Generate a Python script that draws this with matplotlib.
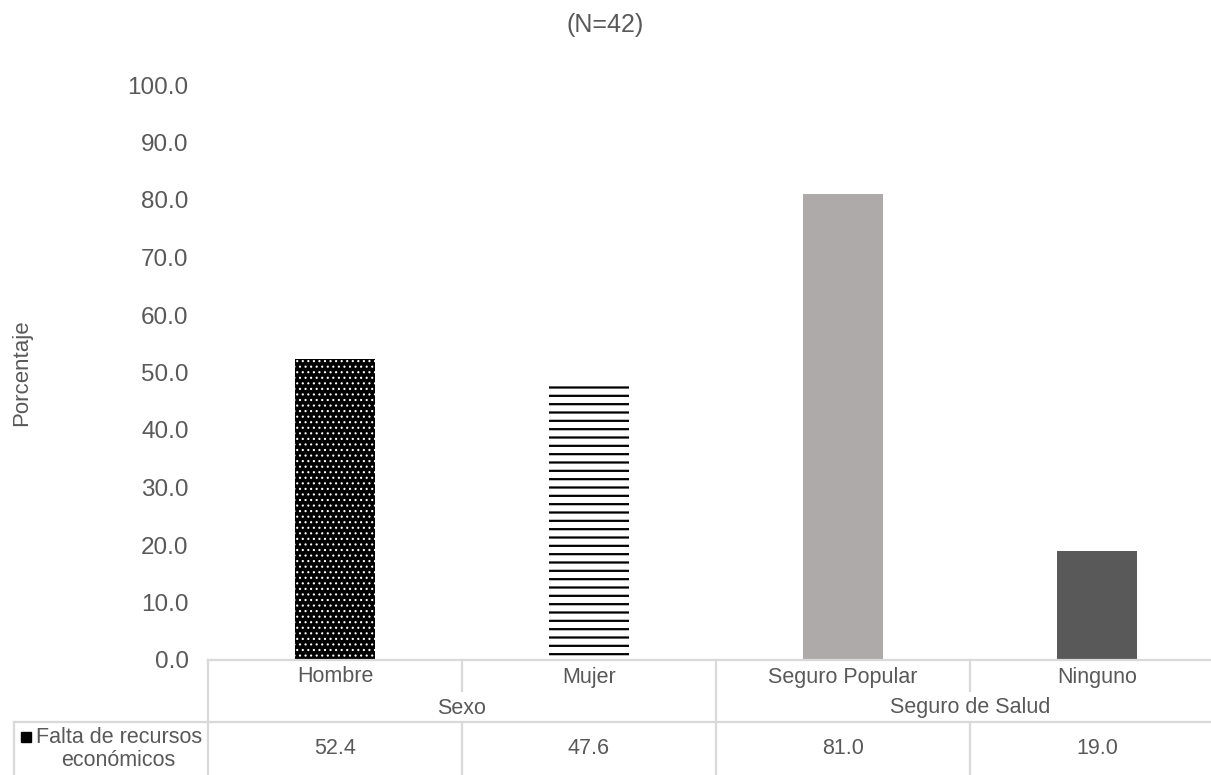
import matplotlib
matplotlib.use('Agg')
import matplotlib.pyplot as plt
from matplotlib.transforms import blended_transform_factory

# ---------------- data ----------------
categorias = ['Hombre', 'Mujer', 'Seguro Popular', 'Ninguno']
grupos = ['Sexo', 'Seguro de Salud']
grupo_idx = [[0, 1], [2, 3]]          # columns that belong to each group
valores = [52.4, 47.6, 81.0, 19.0]
serie = 'Falta de recursos\neconómicos'
titulo = '(N=42)'

plt.rcParams['font.family'] = ['Liberation Sans', 'DejaVu Sans']
txt = '#595959'
grid = '#d9d9d9'

W, H = 1211, 775
fig = plt.figure(figsize=(W / 100, H / 100), dpi=100)

# axes in pixel terms: x 208..1224, y 85..660
def px(x0, y0, x1, y1):
    return [x0 / W, 1 - y1 / H, (x1 - x0) / W, (y1 - y0) / H]

ax = fig.add_axes(px(208, 85, 1224, 660))

# bar styles: dotted, striped, light gray, dark gray  (style, hatch line width)
estilos = [
    (dict(color='black', hatch='...', edgecolor='white', linewidth=0), 0.8),
    (dict(color='white', hatch='--', edgecolor='black', linewidth=0), 1.6),
    (dict(color='#aeaaaa'), 1.0),
    (dict(color='#595959'), 1.0),
]
x = list(range(len(categorias)))
for i, v in enumerate(valores):
    st, hl = estilos[i]
    with plt.rc_context({'hatch.linewidth': hl}):
        ax.bar(x[i], v, width=0.315, **st)

ax.set_xlim(-0.5, len(categorias) - 0.5)
ax.set_ylim(0, 100)
ax.set_yticks(range(0, 101, 10))
ax.set_yticklabels([f'{t:.1f}' for t in range(0, 101, 10)])
ax.tick_params(axis='y', length=0, labelsize=17.5, labelcolor=txt, pad=14)
ax.set_xticks([])
for s in ['top', 'right', 'left', 'bottom']:
    ax.spines[s].set_visible(False)

ax.set_ylabel('Porcentaje', fontsize=16, color=txt)
ax.yaxis.set_label_coords((32 - 208) / 1016, 0.5)
fig.text(605 / W, 1 - 25 / H, titulo, ha='center', va='center', fontsize=18, color=txt)

# ---------------- data table under the plot ----------------
tr = blended_transform_factory(ax.transData, ax.transAxes)
def fy(ypix):
    # pixel row -> axes fraction
    return (660 - ypix) / 575

lk = dict(color=grid, lw=1.6, transform=tr, clip_on=False)
n = len(categorias)
left_x = -0.5 - 194 / 254          # row-label cell left edge (x=14)

ax.plot([-0.5, n - 0.5], [fy(660), fy(660)], **lk)
ax.plot([left_x, n - 0.5], [fy(722), fy(722)], **lk)
ax.plot([-0.5, -0.5], [fy(660), fy(780)], **lk)
ax.plot([left_x, left_x], [fy(722), fy(780)], **lk)
for b in range(1, n):
    sep_grupo = any(b == g[0] for g in grupo_idx)
    if sep_grupo:
        ax.plot([b - 0.5, b - 0.5], [fy(660), fy(780)], **lk)
    else:
        ax.plot([b - 0.5, b - 0.5], [fy(660), fy(691)], **lk)
        ax.plot([b - 0.5, b - 0.5], [fy(722), fy(780)], **lk)

for i, c in enumerate(categorias):
    ax.text(x[i], fy(677), c, transform=tr, ha='center', va='center',
            fontsize=15.5, color=txt)
    ax.text(x[i], fy(749), f'{valores[i]:.1f}', transform=tr, ha='center',
            va='center', fontsize=15.5, color=txt)
for g, idx in zip(grupos, grupo_idx):
    xc = sum(x[j] for j in idx) / len(idx)
    ax.text(xc, fy(708), g, transform=tr, ha='center', va='center',
            fontsize=15.5, color=txt)

# row label with legend key
ax.text((left_x - 0.5) / 2 + 0.03, fy(749), serie, transform=tr, ha='center',
        va='center', fontsize=15.5, color=txt, linespacing=1.15)
fig.patches.append(plt.Rectangle((21 / W, 1 - 742 / H), 10 / W, 10 / H,
                                 transform=fig.transFigure, color='black'))

fig.savefig('out.png', dpi=100)
